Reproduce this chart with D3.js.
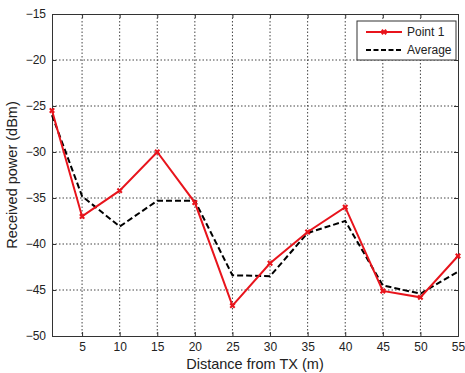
<!DOCTYPE html>
<html>
<head>
<meta charset="utf-8">
<script src="https://cdn.jsdelivr.net/npm/d3@7"></script>
<style>
body{margin:0;background:#fff;}
text{font-family:"Liberation Sans",Arial,sans-serif;}
</style>
</head>
<body>
<div id="chart"></div>
<script>
var distance=[1,5,10,15,20,25,30,35,40,45,50,55]
var point1=[-25.5,-37,-34.2,-30,-35.5,-46.7,-42.1,-38.7,-36,-45.1,-45.8,-41.3]
var average=[-26,-34.8,-38.1,-35.3,-35.3,-43.4,-43.5,-38.8,-37.5,-44.5,-45.4,-43]
var xTicks=[5,10,15,20,25,30,35,40,45,50,55]
var yTicks=[-15,-20,-25,-30,-35,-40,-45,-50]

function draw_chart(){
	var W=465,H=373
	var pLeft=52,pRight=458,pTop=14,pBottom=336

	var svg=d3.select("#chart").append("svg")
		.attr("width",W)
		.attr("height",H)

	var x=d3.scaleLinear().domain([1,55]).range([pLeft,pRight])
	var y=d3.scaleLinear().domain([-50,-15]).range([pBottom,pTop])

	// grid
	svg.append("g").selectAll("line").data(xTicks.slice(0,-1)).enter().append("line")
		.attr("x1",d=>x(d)).attr("x2",d=>x(d))
		.attr("y1",pTop).attr("y2",pBottom)
		.attr("stroke","#444").attr("stroke-width",1).attr("stroke-dasharray","1.5,2")
	svg.append("g").selectAll("line").data(yTicks.slice(1,-1)).enter().append("line")
		.attr("x1",pLeft).attr("x2",pRight)
		.attr("y1",d=>y(d)).attr("y2",d=>y(d))
		.attr("stroke","#444").attr("stroke-width",1).attr("stroke-dasharray","1.5,2")

	// axes, box style
	svg.append("g").attr("transform","translate(0,"+pBottom+")")
		.call(d3.axisBottom(x).tickValues(xTicks).tickSize(-4).tickPadding(6))
	svg.append("g").attr("transform","translate("+pLeft+",0)")
		.call(d3.axisLeft(y).tickValues(yTicks).tickSize(-4).tickPadding(6))
	svg.append("g").attr("transform","translate(0,"+pTop+")")
		.call(d3.axisTop(x).tickValues(xTicks).tickSize(-4).tickFormat(""))
	svg.append("g").attr("transform","translate("+pRight+",0)")
		.call(d3.axisRight(y).tickValues(yTicks).tickSize(-4).tickFormat(""))
	svg.selectAll(".domain").attr("stroke","#333")
	svg.selectAll(".tick line").attr("stroke","#333")
	svg.selectAll(".tick text").attr("font-size",12).attr("fill","#222")
		.attr("font-family","Liberation Sans, Arial, sans-serif")

	// lines
	var line=d3.line().x((d,i)=>x(distance[i])).y(d=>y(d))
	svg.append("path").datum(average)
		.attr("d",line).attr("fill","none")
		.attr("stroke","#000").attr("stroke-width",2).attr("stroke-dasharray","6,3")
	svg.append("path").datum(point1)
		.attr("d",line).attr("fill","none")
		.attr("stroke","#e8141c").attr("stroke-width",2)

	var star=d3.symbol().type(d3.symbolCross).size(22)
	svg.append("g").selectAll("path").data(point1).enter().append("path")
		.attr("d",star)
		.attr("transform",(d,i)=>"translate("+x(distance[i])+","+y(d)+") rotate(45)")
		.attr("fill","#e8141c")

	// axis titles
	svg.append("text").attr("x",(pLeft+pRight)/2).attr("y",369)
		.attr("text-anchor","middle").attr("font-size",14.5).attr("fill","#222")
		.text("Distance from TX (m)")
	svg.append("text").attr("transform","translate(17,"+(pTop+pBottom)/2+") rotate(-90)")
		.attr("text-anchor","middle").attr("font-size",14.5).attr("fill","#222")
		.text("Received power (dBm)")

	// legend
	var lg=svg.append("g")
	lg.append("rect").attr("x",357).attr("y",21).attr("width",99).attr("height",39)
		.attr("fill","#fff").attr("stroke","#333").attr("stroke-width",1)
	lg.append("line").attr("x1",366).attr("x2",402).attr("y1",32).attr("y2",32)
		.attr("stroke","#e8141c").attr("stroke-width",2)
	lg.append("path").attr("d",star).attr("transform","translate(384,32) rotate(45)").attr("fill","#e8141c")
	lg.append("line").attr("x1",366).attr("x2",402).attr("y1",50).attr("y2",50)
		.attr("stroke","#000").attr("stroke-width",2).attr("stroke-dasharray","5,2.5")
	lg.append("text").attr("x",407).attr("y",36).attr("font-size",12).attr("fill","#222").text("Point 1")
	lg.append("text").attr("x",407).attr("y",54).attr("font-size",12).attr("fill","#222").text("Average")
}

draw_chart()
</script>
</body>
</html>
